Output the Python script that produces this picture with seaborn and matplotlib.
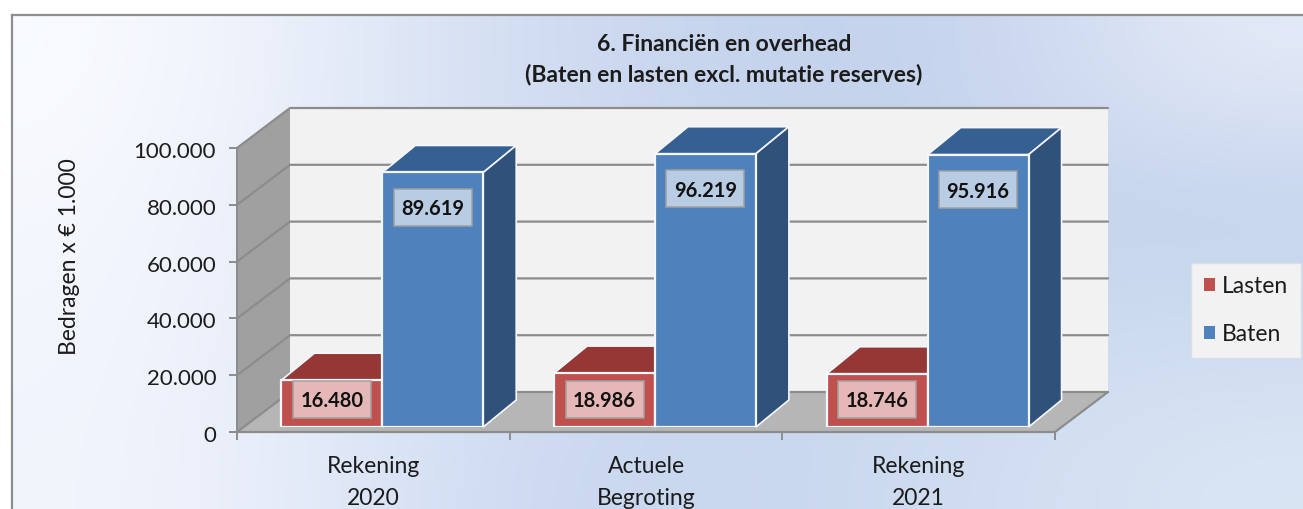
import numpy as np
import pandas as pd
import matplotlib
matplotlib.use("Agg")
import matplotlib.pyplot as plt
from matplotlib.patches import Polygon, Rectangle
from matplotlib.transforms import IdentityTransform, ScaledTranslation
import seaborn as sns

categories = ["Rekening\n2020", "Actuele\nBegroting", "Rekening\n2021"]
lasten = [16480, 18986, 18746]
baten = [89619, 96219, 95916]
series = ["Lasten", "Baten"]
yticks = [0, 20000, 40000, 60000, 80000, 100000]

def nl(v):
    return f"{v:,.0f}".replace(",", ".")

sns.set_theme(style="white")
plt.rcParams["font.family"] = ["Lato", "DejaVu Sans"]

W, H = 1303, 509
TXT = "#1c1c1c"
def rect(l, t, r, b):
    return [l / W, 1 - b / H, (r - l) / W, (b - t) / H]

fig = plt.figure(figsize=(W / 100, H / 100), dpi=100, facecolor="white")

# chart-area gradient
bg = fig.add_axes(rect(12, 15, 1303, 509), zorder=0)
grid = np.array([
    ["#F9FBFF", "#E6ECF8", "#CFDBF1", "#C3D2EC", "#C6D4EE", "#E4EAF7"],
    ["#F6F8FE", "#E3EAF8", "#D2DDF2", "#C5D4EE", "#C5D4EC", "#C2D2EC"],
    ["#F3F6FD", "#E3EAF8", "#D2DEF2", "#C8D7EF", "#CDDBF0", "#CEDCF0"],
    ["#F2F5FC", "#E2E9F8", "#C9D7F0", "#C9D7EF", "#D0DDF1", "#DAE5F4"],
])
rgb = np.array([[matplotlib.colors.to_rgb(c) for c in row] for row in grid])
bg.imshow(rgb, aspect="auto", interpolation="bicubic", extent=(0, 1, 0, 1))
bg.set_xticks([]); bg.set_yticks([])
for s in ("right", "bottom"):
    bg.spines[s].set_visible(False)
for s in ("left", "top"):
    bg.spines[s].set_color("#8E8E8E")
    bg.spines[s].set_linewidth(1.6)

# front plane of the 3D box: category / value axes
ax = fig.add_axes(rect(237, 148, 1055, 432), zorder=1)
ax.patch.set_alpha(0)
ax.set_xlim(-0.5, 2.5)
ax.set_ylim(0, 100000)
DEPTH = np.array([53, 40])

def P(x, y, k=0.0, axes=ax, d=DEPTH):
    return axes.transData.transform((x, y)) + k * d

def poly(axes, pts, color, z, edge="none", lw=0):
    axes.add_patch(Polygon(pts, closed=True, facecolor=color, edgecolor=edge, linewidth=lw,
                           transform=IdentityTransform(), zorder=z, clip_on=False))

x0, x1 = -0.5, 2.5
ymax = yticks[-1]
poly(ax, [P(x0, 0, 1), P(x1, 0, 1), P(x1, ymax, 1), P(x0, ymax, 1)], "#F2F2F2", 1)
poly(ax, [P(x0, 0), P(x0, 0, 1), P(x0, ymax, 1), P(x0, ymax)], "#A0A0A0", 1)
poly(ax, [P(x0, 0), P(x1, 0), P(x1, 0, 1), P(x0, 0, 1)], "#B6B6B6", 1)
LINE = "#8C8C8C"
for v in yticks:
    pts = np.array([P(x0, v), P(x0, v, 1), P(x1, v, 1)])
    ax.plot(pts[:, 0], pts[:, 1], color=LINE, lw=1.6, transform=IdentityTransform(), zorder=2, clip_on=False)
pts = np.array([P(x0, 0), P(x1, 0), P(x1, 0, 1)])
ax.plot(pts[:, 0], pts[:, 1], color=LINE, lw=1.6, transform=IdentityTransform(), zorder=2, clip_on=False)

ax.set_yticks(yticks, [nl(v) for v in yticks])
ax.set_xticks([0, 1, 2], categories)
ax.set_xticks([-0.5, 0.5, 1.5, 2.5], minor=True)
ax.tick_params(axis="y", left=True, length=6, width=1.4, color=LINE, labelsize=16, labelcolor=TXT, pad=9)
ax.tick_params(axis="x", which="major", bottom=False, length=0, labelsize=16.5, labelcolor=TXT, pad=17.5)
ax.tick_params(axis="x", which="minor", bottom=True, length=6, width=1.4, color=LINE)
for lab in ax.get_xticklabels():
    lab.set_linespacing(1.6)
nudge = ScaledTranslation(0, -2 / 100, fig.dpi_scale_trans)
for lab in ax.get_yticklabels():
    lab.set_transform(lab.get_transform() + nudge)
for s in ax.spines.values():
    s.set_visible(False)
ax.spines["left"].set_visible(True)
ax.spines["left"].set_color(LINE)
ax.spines["left"].set_linewidth(1.4)
ax.spines["left"].set_zorder(2)

# bars, sitting slightly inside the box
axb = fig.add_axes(rect(237 + 9, 148 - 5, 1055 + 9, 432 - 5), zorder=2)
axb.patch.set_alpha(0)
df = pd.DataFrame({
    "Categorie": categories * 2,
    "Reeks": ["Lasten"] * 3 + ["Baten"] * 3,
    "Bedrag": lasten + baten,
})
sns.barplot(data=df, x="Categorie", y="Bedrag", hue="Reeks", hue_order=series,
            palette={"Lasten": "#C0504D", "Baten": "#4F81BD"}, width=0.74, gap=0, saturation=1,
            edgecolor="#F4F7FC", linewidth=1.6, ax=axb, zorder=4)
axb.set_xlim(-0.5, 2.5)
axb.set_ylim(0, 100000)
axb.axis("off")
bar_depth = np.array([33, 27])
shades = {"Lasten": ("#953735", "#7A2C2A"), "Baten": ("#376092", "#30517A")}
EDGE = "#F4F7FC"
bars = [p for p in axb.patches if p.get_height() > 0]
order = sorted(bars, key=lambda p: p.get_x())
for i, b in enumerate(order):
    name = series[i % 2]
    l, r = b.get_x(), b.get_x() + b.get_width()
    t = b.get_height()
    D = lambda x, y, k=0: P(x, y, k, axb, bar_depth)
    poly(axb, [D(l, t), D(r, t), D(r, t, 1), D(l, t, 1)], shades[name][0], 2, EDGE, 1.2)
    poly(axb, [D(r, 0), D(r, 0, 1), D(r, t, 1), D(r, t)], shades[name][1], 2, EDGE, 1.2)
    # data label
    cx = D((l + r) / 2, t)[0]
    cy = D(0, 0)[1] + 28 if name == "Lasten" else D(0, t)[1] - 35
    axb.add_patch(Rectangle((cx - 39, cy - 18.5), 78, 37, facecolor="white", alpha=0.6,
                            edgecolor="none", transform=IdentityTransform(), zorder=6, clip_on=False))
    axb.add_patch(Rectangle((cx - 39, cy - 18.5), 78, 37, facecolor="none", edgecolor="#A0A0A0", lw=1.1,
                            transform=IdentityTransform(), zorder=6, clip_on=False))
    axb.text(cx, cy, nl(t), transform=IdentityTransform(), ha="center", va="center_baseline",
             fontsize=14.5, fontweight="bold", color="#111111", zorder=7)

handles, labels = axb.get_legend_handles_labels()
axb.get_legend().remove() if axb.get_legend() else None
leg = fig.legend(handles, labels, loc="center", bbox_to_anchor=(1246 / W, 1 - 310.5 / H),
                 fontsize=16.5, frameon=True, facecolor="#F2F2F2", edgecolor="#D9DFEA", framealpha=1,
                 fancybox=False, handlelength=0.5, handleheight=0.5, handletextpad=0.3,
                 labelspacing=1.18, borderpad=0.55, borderaxespad=0, labelcolor=TXT)
for h in leg.legend_handles:
    h.set_edgecolor("none")

fig.text(724 / W, 1 - 60 / H, "6. Financiën en overhead\n(Baten en lasten excl. mutatie reserves)",
         ha="center", va="center", fontsize=16.5, fontweight="bold", color=TXT, linespacing=1.5)
fig.text(70 / W, 1 - 257 / H, "Bedragen x € 1.000", rotation=90, ha="center", va="center",
         fontsize=16.5, color=TXT)

fig.savefig("out.png", dpi=100)
